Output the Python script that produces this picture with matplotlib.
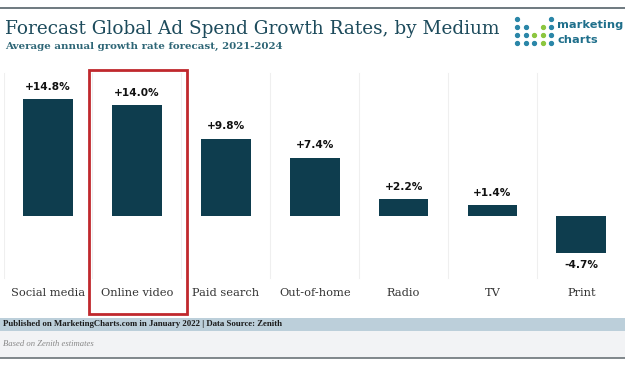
import matplotlib
matplotlib.use("Agg")
import matplotlib.pyplot as plt
from matplotlib.patches import Rectangle

# data
categories = ["Social media", "Online video", "Paid search", "Out-of-home", "Radio", "TV", "Print"]
growth = [14.8, 14.0, 9.8, 7.4, 2.2, 1.4, -4.7]
value_labels = ["+14.8%", "+14.0%", "+9.8%", "+7.4%", "+2.2%", "+1.4%", "-4.7%"]
highlight = 1  # Online video is boxed in red

W, H = 625, 375
bar_color = "#0e3d4e"
title_color = "#1d4b5c"

fig = plt.figure(figsize=(W / 100, H / 100), dpi=100)
fig.patch.set_facecolor("white")

def fx(px):
    return px / W

def fy(py):
    return 1 - py / H

# header line
fig.add_artist(plt.Line2D([0, 1], [fy(8), fy(8)], color="#55626a", lw=1.2))

fig.text(fx(5), fy(29), "Forecast Global Ad Spend Growth Rates, by Medium",
         family="DejaVu Serif", fontsize=13.3, color=title_color, va="center", ha="left")
fig.text(fx(5), fy(46), "Average annual growth rate forecast, 2021-2024",
         family="DejaVu Serif", fontsize=7.4, fontweight="bold", color="#2e6676", va="center", ha="left")

# logo: dot grid + wordmark
dot_rows = [
    [1, 0, 0, 0, 1],
    [1, 1, 0, 2, 1],
    [1, 1, 2, 2, 1],
    [1, 1, 1, 2, 1],
]
for r, row in enumerate(dot_rows):
    for c, v in enumerate(row):
        if v:
            col = "#2a86a8" if v == 1 else "#8cc63f"
            fig.add_artist(plt.Line2D([fx(517 + c * 8.5)], [fy(19 + r * 8)], marker="o",
                                      markersize=2.8, color=col, lw=0))
fig.text(fx(557), fy(25), "marketing", fontsize=8.2, fontweight="bold", color="#1f6f8b", va="center")
fig.text(fx(557), fy(40), "charts", fontsize=8.2, fontweight="bold", color="#1f6f8b", va="center")

# main axes, placed so bars land where the reference has them
ax_top, ax_bot = 60, 320
zero_px, px_per_unit = 216, 7.9
ax = fig.add_axes([fx(3.6), fy(ax_bot), fx(622.2), (ax_bot - ax_top) / H])
ax.set_xlim(-0.5, 6.5)
ax.set_ylim(-(ax_bot - zero_px) / px_per_unit, (zero_px - ax_top) / px_per_unit)
ax.axis("off")

x = list(range(len(categories)))
ax.bar(x, growth, width=0.56, color=bar_color)

for sep in [i + 0.5 for i in range(-1, len(categories) - 1)]:
    ax.plot([sep, sep], [-7.9, 18.1], color="#efefef", lw=0.8, zorder=0)

for xi, v, lab in zip(x, growth, value_labels):
    if v >= 0:
        ax.text(xi, v + 0.9, lab, ha="center", va="bottom", fontsize=7.6,
                fontweight="bold", color="#111111")
    else:
        ax.text(xi, v - 0.9, lab, ha="center", va="top", fontsize=7.6,
                fontweight="bold", color="#111111")
    ax.text(xi, -9.75, categories[xi], ha="center", va="center", fontsize=8.2,
            family="DejaVu Serif", color="#333333")

ax.add_patch(Rectangle((highlight - 0.535, -12.4), 1.1, 30.9, fill=False,
                       edgecolor="#c0282d", lw=2, clip_on=False))

# footer
fig.add_artist(Rectangle((0, fy(331)), 1, (331 - 318) / H, color="#bccfda", lw=0))
fig.add_artist(Rectangle((0, fy(358)), 1, (358 - 331) / H, color="#f2f3f5", lw=0))
fig.add_artist(plt.Line2D([0, 1], [fy(358), fy(358)], color="#6b7378", lw=1.2))
fig.text(fx(3), fy(324.5), "Published on MarketingCharts.com in January 2022 | Data Source: Zenith",
         family="Liberation Serif", fontsize=6.3, fontweight="bold", color="#1a1a1a", va="center")
fig.text(fx(3), fy(344), "Based on Zenith estimates", family="Liberation Serif",
         fontsize=6.2, style="italic", color="#888888", va="center")

fig.savefig("out.png", dpi=100)
